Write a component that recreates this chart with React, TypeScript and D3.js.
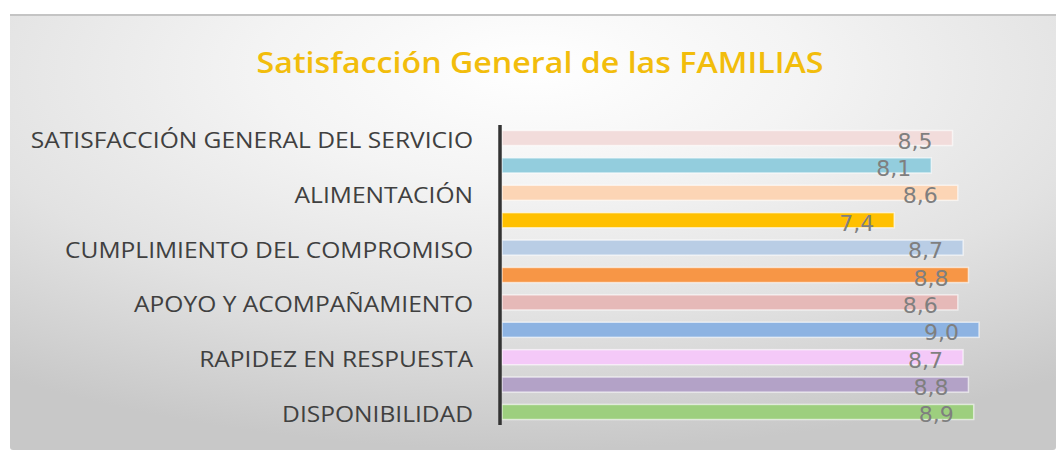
import React from "react";
import * as d3 from "d3";

const categories: string[] = [
  "SATISFACCIÓN GENERAL DEL SERVICIO",
  "",
  "ALIMENTACIÓN",
  "",
  "CUMPLIMIENTO DEL COMPROMISO",
  "",
  "APOYO Y ACOMPAÑAMIENTO",
  "",
  "RAPIDEZ EN RESPUESTA",
  "",
  "DISPONIBILIDAD",
];
const values: number[] = [8.5, 8.1, 8.6, 7.4, 8.7, 8.8, 8.6, 9.0, 8.7, 8.8, 8.9];
const barColors: string[] = [
  "#f2dcdb", "#93cddd", "#fcd5b5", "#ffc000", "#b9cde5", "#f79646",
  "#e6b9b8", "#8db3e2", "#f4c9f8", "#b3a2c7", "#9dcf7e",
];
const title = "Satisfacción General de las FAMILIAS";

const W = 1056;
const H = 450;

export default function App() {
  const ids = categories.map((_, i) => String(i));
  const y = d3.scaleBand<string>().domain(ids).range([125, 425]).paddingInner(0.45).paddingOuter(0.2);
  const x = d3.scaleLinear().domain([0, 9]).range([502, 979]);
  const fmt = (v: number) => d3.format(".1f")(v).replace(".", ",");

  return (
    <svg width={W} height={H} style={{ position: "absolute", left: 0, top: 0, display: "block" }}>
      <defs>
        <radialGradient id="bg" cx="0.5" cy="0.15" r="0.85" fx="0.5" fy="0.12">
          <stop offset="0" stopColor="#ffffff" />
          <stop offset="0.3" stopColor="#f4f4f4" />
          <stop offset="0.65" stopColor="#e2e2e2" />
          <stop offset="1" stopColor="#c8c8c8" />
        </radialGradient>
      </defs>
      <rect x={0} y={0} width={W} height={H} fill="#ffffff" />
      <rect x={10} y={14} width={W - 10} height={H - 14} rx={3} fill="url(#bg)" />
      <rect x={10} y={14} width={W - 10} height={2} fill="#c4c4c4" />

      <text
        transform={`translate(540,73) scale(1.15,1)`}
        textAnchor="middle"
        fontFamily="'Open Sans', sans-serif"
        fontWeight={600}
        fontSize={28}
        fill="#f2bd0c"
      >
        {title}
      </text>

      {categories.map((c, i) =>
        c ? (
          <text
            key={"c" + i}
            transform={`translate(473,${(y(String(i)) as number) + y.bandwidth() / 2 + 10}) scale(1.17,1)`}
            textAnchor="end"
            fontFamily="'Open Sans', sans-serif"
            fontSize={21}
            fill="#404040"
          >
            {c}
          </text>
        ) : null
      )}

      {values.map((v, i) => (
        <rect
          key={"b" + i}
          x={x(0)}
          y={y(String(i)) as number}
          width={x(v) - x(0)}
          height={y.bandwidth()}
          fill={barColors[i]}
          stroke="#ffffff"
          strokeOpacity={0.6}
          strokeWidth={1.5}
        />
      ))}

      <line x1={500} x2={500} y1={125} y2={425} stroke="#333333" strokeWidth={3.5} />

      {values.map((v, i) => (
        <text
          key={"v" + i}
          x={x(v) - 20}
          y={(y(String(i)) as number) + y.bandwidth() / 2 + 10.5}
          textAnchor="end"
          fontFamily="'DejaVu Sans', sans-serif"
          fontSize={22}
          fill="#7f7f7f"
        >
          {fmt(v)}
        </text>
      ))}
    </svg>
  );
}
